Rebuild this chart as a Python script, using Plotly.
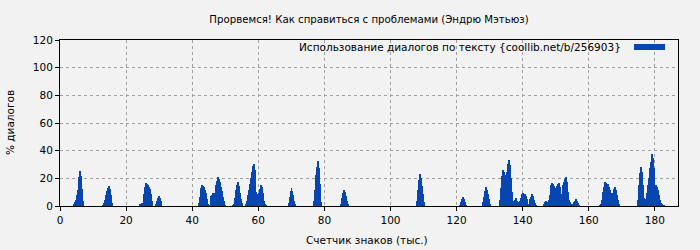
import plotly.graph_objects as go

title = "Прорвемся! Как справиться с проблемами (Эндрю Мэтьюз)"
x_title = "Счетчик знаков (тыс.)"
y_title = "% диалогов"
legend_label = "Использование диалогов по тексту {coollib.net/b/256903}"

step = 0.3  # width of one bin (thousand chars)

peak_starts = [4.2, 13.0, 24.2, 29.0, 42.0, 45.1, 52.3, 56.0, 69.0, 76.8, 85.0,
               108.0, 121.0, 127.9, 133.1, 146.4, 163.3, 174.8]

peak_values = [
    [1.5, 2.6, 4.6, 8, 11.6, 21, 25.3, 21.7, 12.3, 3.6],
    [0.7, 2, 4.6, 8, 11, 12.8, 14.5, 12.3, 8.2, 2.2],
    [1.2, 1.2, 2, 2, 9, 13.5, 16.6, 16, 15.2, 14, 12.3, 8.4, 3.6],
    [1.2, 3.6, 5.8, 7.5, 5.5, 3.4],
    [2, 6.5, 12.8, 15.2, 14.5, 13.5, 11.8, 9.6, 5, 1.2],
    [0.7, 7.2, 8, 9.4, 9.4, 9.4, 12.3, 15, 18, 21, 19.5, 17, 14, 11, 6.7, 3.6, 0.7],
    [0.7, 1.7, 6, 11.6, 15.2, 17, 14.2, 9.2, 5, 2.2],
    [1.2, 3.4, 8, 11.6, 16, 20, 24.8, 28.7, 29.6, 30.1, 25.8, 10.4, 8.4, 8.4,
     9.2, 12.3, 15.2, 13.5, 9.2, 3.6, 1.2, 0.7],
    [2, 6.7, 11, 13, 10.8, 8, 3.6, 1.4],
    [3.6, 11.6, 22.4, 28.4, 32.5, 27.2, 15.7, 3.1],
    [1.7, 5.5, 9.6, 11.6, 9.9, 7.2, 3.6, 1.4],
    [3.6, 11.6, 18.8, 23.1, 20, 14.5, 8.7, 2.6],
    [0.7, 3.1, 5, 6.5, 5, 2.6, 0.7],
    [2.6, 6.7, 10.8, 13.7, 11.6, 8.4, 5, 1.4],
    [4.3, 12.8, 21.7, 26, 24.8, 22.4, 20, 24.8, 30.1, 33.3, 29.6, 20, 10.4, 3.6,
     2.6, 4.3, 5.5, 3.6, 2.6, 0.7, 3.6, 6, 8.4, 9.2, 8.9, 8.4, 7.5, 5, 1.2,
     1.7, 5, 6.7, 8.4, 7.5, 4.3, 2, 0.7],
    [1.2, 2.6, 3.6, 3.1, 2, 4.3, 8, 15.2, 16.9, 15.7, 14.5, 13.3, 12.8, 14.5,
     15.7, 16.6, 14, 8.4, 8, 15.2, 17.6, 19.3, 21.2, 17.6, 10.4, 4.3, 3.1, 1.2,
     0.7, 1.2, 2.6, 3.9, 5, 3.6, 2, 0.7],
    [0.7, 1.7, 4.3, 10.4, 14, 17, 16.4, 16.1, 16.1, 14, 11.6, 9.2, 6.7, 9.2,
     12.3, 14, 11.6, 8, 4.3, 1.4],
    [4.3, 15.2, 23.6, 28.4, 24.8, 15.2, 5.5, 3.6, 5, 9.2, 15.2, 20.5, 27.2, 32,
     37.6, 34.5, 27.2, 15.2, 15, 14, 11.6, 8, 4.3, 2, 1.2, 0.7, 0.5],
]

xs, ys = [], []
for s, vals in zip(peak_starts, peak_values):
    for i, v in enumerate(vals):
        xs.append(s + i * step + step / 2)
        ys.append(v)

x_ticks = [0, 20, 40, 60, 80, 100, 120, 140, 160, 180]
y_ticks = [0, 20, 40, 60, 80, 100, 120]

bar_color = "#0746b0"
bg = "#f2f2f2"
font = "DejaVu Sans"
fs = 10.5

L, R, T, B = 60, 22, 40, 44
PW, PH = 700 - L - R, 250 - T - B

fig = go.Figure()
fig.add_trace(go.Bar(x=xs, y=ys, width=step, marker=dict(color=bar_color, line=dict(width=0)),
                     showlegend=False))

fig.update_layout(
    width=700, height=250,
    margin=dict(l=L, r=R, t=T, b=B, autoexpand=False),
    paper_bgcolor=bg, plot_bgcolor=bg,
    font=dict(family=font, size=fs, color="#000"),
    title=dict(text=title, xref="paper", x=0.5, xanchor="center", y=1 - 19 / 250,
               yanchor="middle", font=dict(size=10.2)),
    bargap=0,
)
axis_common = dict(showline=True, linecolor="#000", linewidth=1, mirror=True,
                   showgrid=True, gridcolor="#a0a0a0", griddash="dot", gridwidth=1,
                   ticks="outside", ticklen=4, tickcolor="#000", zeroline=False,
                   automargin=False, tickfont=dict(size=fs))
fig.update_xaxes(range=[0, 187], tickvals=x_ticks, **axis_common)
fig.update_yaxes(range=[0, 120], tickvals=y_ticks, **axis_common)

# axis titles
fig.add_annotation(xref="paper", yref="paper", x=(367 - L) / PW, y=-(240 - 206) / PH,
                   text=x_title, showarrow=False, xanchor="center", yanchor="middle",
                   font=dict(size=fs))
fig.add_annotation(xref="paper", yref="paper", x=(10 - L) / PW, y=(206 - 123) / PH,
                   text=y_title, showarrow=False, xanchor="center", yanchor="middle",
                   textangle=-90, font=dict(size=fs))

# legend drawn as text + swatch in the top-right corner of the plot area
fig.add_annotation(xref="paper", yref="paper", x=(623 - L) / PW, y=1 - 7 / PH,
                   text=legend_label, showarrow=False, xanchor="right", yanchor="middle",
                   font=dict(size=fs))
fig.add_shape(type="rect", xref="paper", yref="paper",
              x0=(634 - L) / PW, x1=(665 - L) / PW,
              y0=1 - 10 / PH, y1=1 - 4 / PH,
              fillcolor=bar_color, line=dict(width=0))

fig.write_html("out.html")
